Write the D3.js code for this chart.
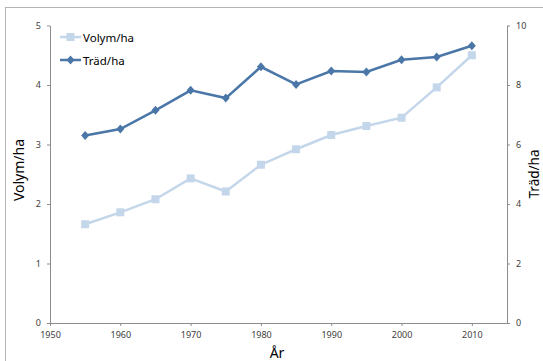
<!DOCTYPE html>
<html>
<head>
<meta charset="utf-8">
<script src="https://cdn.jsdelivr.net/npm/d3@7"></script>
<style>
  html, body { margin: 0; padding: 0; background: #fff; }
  svg { display: block; }
  text { font-family: "Noto Sans", "DejaVu Sans", sans-serif; }
</style>
</head>
<body>
<svg id="chart" width="543" height="361"></svg>
<script>
// Data
const years = [1955, 1960, 1965, 1970, 1975, 1980, 1985, 1990, 1995, 2000, 2005, 2010];
const volymPerHa = [1.66, 1.86, 2.08, 2.43, 2.21, 2.66, 2.92, 3.16, 3.31, 3.45, 3.96, 4.50];
const tradPerHa = [6.30, 6.52, 7.15, 7.82, 7.56, 8.61, 8.02, 8.47, 8.44, 8.85, 8.94, 9.32];
const xTicks = [1950, 1960, 1970, 1980, 1990, 2000, 2010];
const leftTicks = [0, 1, 2, 3, 4, 5];
const rightTicks = [0, 2, 4, 6, 8, 10];
const seriesNames = ["Volym/ha", "Träd/ha"];

const colVolym = "#c4d6ea";
const colTrad = "#4a76a8";
const axisCol = "#8c8c8c";
const labelCol = "#404040";

const svg = d3.select("#chart");

// Outer chart frame
svg.append("rect")
  .attr("x", 5.5).attr("y", 7.5)
  .attr("width", 600).attr("height", 400)
  .attr("fill", "none").attr("stroke", "#b3b3b3").attr("stroke-width", 1);

const plot = { left: 50, right: 507, top: 25.5, bottom: 323 };

const x = d3.scaleLinear().domain([1950, 2015]).range([plot.left, plot.right]);
const yL = d3.scaleLinear().domain([0, 5]).range([plot.bottom, plot.top]);
const yR = d3.scaleLinear().domain([0, 10]).range([plot.bottom, plot.top]);

function styleAxis(g) {
  g.selectAll("path").attr("stroke", axisCol);
  g.selectAll("line").attr("stroke", axisCol);
  g.selectAll("text").attr("fill", labelCol).style("font-size", "9px");
}

// Bottom axis
svg.append("g")
  .attr("transform", `translate(0,${plot.bottom})`)
  .call(d3.axisBottom(x).tickValues(xTicks).tickFormat(d3.format("d")).tickSize(3).tickSizeOuter(0).tickPadding(6))
  .call(styleAxis);

// Left axis
svg.append("g")
  .attr("transform", `translate(${plot.left},0)`)
  .call(d3.axisLeft(yL).tickValues(leftTicks).tickFormat(d3.format("d")).tickSize(3).tickSizeOuter(0).tickPadding(6))
  .call(styleAxis);

// Right axis
svg.append("g")
  .attr("transform", `translate(${plot.right},0)`)
  .call(d3.axisRight(yR).tickValues(rightTicks).tickFormat(d3.format("d")).tickSize(3).tickSizeOuter(0).tickPadding(6))
  .call(styleAxis);

// Axis titles
svg.append("text")
  .attr("transform", `translate(24,170) rotate(-90)`)
  .attr("text-anchor", "middle")
  .style("font-size", "14px").attr("fill", "#000")
  .text("Volym/ha");

svg.append("text")
  .attr("transform", `translate(539,174) rotate(-90)`)
  .attr("text-anchor", "middle")
  .style("font-size", "13.5px").attr("fill", "#000")
  .text("Träd/ha");

svg.append("text")
  .attr("x", 277).attr("y", 358)
  .attr("text-anchor", "middle")
  .style("font-size", "14px").attr("fill", "#000")
  .text("År");

// Volym/ha series (left axis)
const volData = years.map((yr, i) => ({ yr, v: volymPerHa[i] }));
svg.append("path")
  .datum(volData)
  .attr("fill", "none").attr("stroke", colVolym).attr("stroke-width", 2.5)
  .attr("d", d3.line().x(d => x(d.yr)).y(d => yL(d.v)));
svg.append("g").selectAll("path")
  .data(volData).join("path")
  .attr("d", d3.symbol().type(d3.symbolSquare).size(64))
  .attr("transform", d => `translate(${x(d.yr)},${yL(d.v)})`)
  .attr("fill", colVolym);

// Träd/ha series (right axis)
const tradData = years.map((yr, i) => ({ yr, v: tradPerHa[i] }));
svg.append("path")
  .datum(tradData)
  .attr("fill", "none").attr("stroke", colTrad).attr("stroke-width", 2.5)
  .attr("d", d3.line().x(d => x(d.yr)).y(d => yR(d.v)));
const diamond = "M0,-4.5L4,0L0,4.5L-4,0Z";
svg.append("g").selectAll("path")
  .data(tradData).join("path")
  .attr("d", diamond)
  .attr("transform", d => `translate(${x(d.yr)},${yR(d.v)})`)
  .attr("fill", colTrad);

// Legend
const legend = svg.append("g");
const legendRows = [
  { name: seriesNames[0], color: colVolym, marker: "square", y: 37 },
  { name: seriesNames[1], color: colTrad, marker: "diamond", y: 60 }
];
legendRows.forEach(r => {
  legend.append("line")
    .attr("x1", 60).attr("x2", 81).attr("y1", r.y).attr("y2", r.y)
    .attr("stroke", r.color).attr("stroke-width", 2.5);
  if (r.marker === "square") {
    legend.append("path")
      .attr("d", d3.symbol().type(d3.symbolSquare).size(64))
      .attr("transform", `translate(70.5,${r.y})`)
      .attr("fill", r.color);
  } else {
    legend.append("path")
      .attr("d", diamond)
      .attr("transform", `translate(70.5,${r.y})`)
      .attr("fill", r.color);
  }
  legend.append("text")
    .attr("x", 83).attr("y", r.y + 4.5)
    .style("font-size", "11.5px").attr("fill", "#000")
    .text(r.name);
});
</script>
</body>
</html>
